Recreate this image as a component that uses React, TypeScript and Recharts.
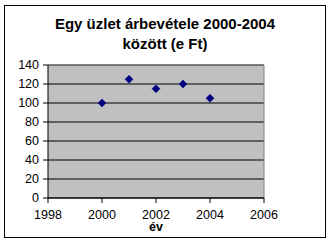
import {
  ScatterChart,
  Scatter,
  XAxis,
  YAxis,
  CartesianGrid,
  ReferenceLine,
  Label,
} from "recharts";

const years = [2000, 2001, 2002, 2003, 2004];
const revenue = [100, 125, 115, 120, 105];
const xTicks = [1998, 2000, 2002, 2004, 2006];
const yTicks = [0, 20, 40, 60, 80, 100, 120, 140];

const data = years.map((ev, i) => ({ ev, value: revenue[i] }));

const FONT = "'Liberation Sans', Arial, sans-serif";

function Diamond({ cx, cy }: { cx?: number; cy?: number }) {
  if (cx == null || cy == null) return null;
  const r = 4;
  return (
    <polygon
      points={`${cx},${cy - r} ${cx + r},${cy} ${cx},${cy + r} ${cx - r},${cy}`}
      fill="#000080"
      stroke="#000080"
      strokeWidth={0.5}
    />
  );
}

export default function App() {
  return (
    <div
      style={{
        position: "fixed",
        left: 0,
        top: 0,
        width: 332,
        height: 244,
        background: "#fff",
        fontFamily: FONT,
      }}
    >
      <div
        style={{
          position: "absolute",
          left: 4,
          top: 5,
          width: 320,
          height: 231,
          border: "1px solid #000",
        }}
      />
      <div
        style={{
          position: "absolute",
          left: 0,
          top: 14,
          width: 330,
          textAlign: "center",
          fontWeight: "bold",
          fontSize: 15,
          lineHeight: "20px",
          color: "#000",
        }}
      >
        Egy üzlet árbevétele 2000-2004
        <br />
        között (e Ft)
      </div>
      <ScatterChart
        width={332}
        height={244}
        margin={{ top: 65, right: 68, bottom: 16, left: 8 }}
        style={{ position: "absolute", left: 0, top: 0 }}
      >
        <CartesianGrid
          vertical={false}
          stroke="#000"
          fill="#c0c0c0"
          fillOpacity={1}
        />
        <XAxis
          type="number"
          dataKey="ev"
          domain={[1998, 2006]}
          ticks={xTicks}
          interval={0}
          height={30}
          tickSize={5}
          tickMargin={7}
          axisLine={{ stroke: "#000" }}
          tickLine={{ stroke: "#000" }}
          tick={{ fontSize: 12.5, fill: "#000", fontFamily: FONT }}
        >
          <Label
            value="év"
            position="insideBottom"
            offset={-3}
            style={{ fontSize: 12.5, fontWeight: "bold", fill: "#000", fontFamily: FONT }}
          />
        </XAxis>
        <YAxis
          type="number"
          dataKey="value"
          domain={[0, 140]}
          ticks={yTicks}
          interval={0}
          width={40}
          tickSize={5}
          tickMargin={4}
          axisLine={{ stroke: "#000" }}
          tickLine={{ stroke: "#000" }}
          tick={{ fontSize: 12.5, fill: "#000", fontFamily: FONT }}
        />
        <ReferenceLine y={140} stroke="#808080" />
        <ReferenceLine x={2006} stroke="#808080" />
        <Scatter data={data} shape={<Diamond />} isAnimationActive={false} />
      </ScatterChart>
    </div>
  );
}
